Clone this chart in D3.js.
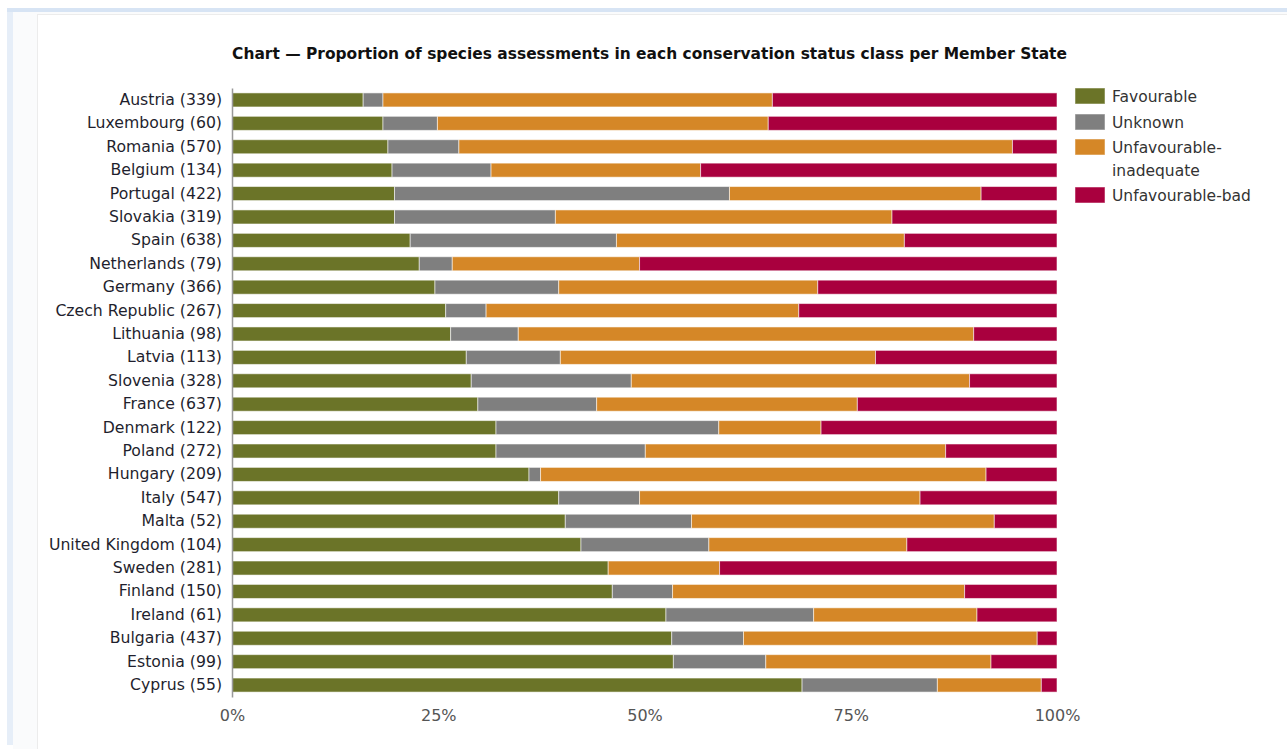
<!DOCTYPE html>
<html>
<head>
<meta charset="utf-8">
<script src="https://cdn.jsdelivr.net/npm/d3@7"></script>
<style>
  body { margin: 0; background: #fff; }
  svg { display: block; }
</style>
</head>
<body>
<script>
var width = 1287,
    height = 749;

// countries, top to bottom, with number of assessments
var countries = ["Austria", "Luxembourg", "Romania", "Belgium", "Portugal", "Slovakia", "Spain",
  "Netherlands", "Germany", "Czech Republic", "Lithuania", "Latvia", "Slovenia", "France",
  "Denmark", "Poland", "Hungary", "Italy", "Malta", "United Kingdom", "Sweden", "Finland",
  "Ireland", "Bulgaria", "Estonia", "Cyprus"];
var counts = [339, 60, 570, 134, 422, 319, 638, 79, 366, 267, 98, 113, 328, 637,
  122, 272, 209, 547, 52, 104, 281, 150, 61, 437, 99, 55];

// percentages per status class
var favourable = [15.9, 18.3, 18.9, 19.4, 19.7, 19.7, 21.6, 22.7, 24.6, 25.9, 26.5, 28.4, 29.0,
  29.8, 32.0, 32.0, 36.0, 39.6, 40.4, 42.3, 45.6, 46.1, 52.6, 53.3, 53.5, 69.1];
var unknown = [2.4, 6.6, 8.6, 12.0, 40.6, 19.5, 25.0, 4.0, 15.0, 4.9, 8.2, 11.4, 19.4,
  14.4, 27.0, 18.1, 1.4, 9.8, 15.3, 15.5, 0, 7.3, 17.9, 8.7, 11.2, 16.4];
var inadequate = [47.2, 40.1, 67.1, 25.4, 30.5, 40.8, 34.9, 22.7, 31.4, 37.9, 55.2, 38.2, 41.0,
  31.6, 12.4, 36.4, 54.0, 34.0, 36.7, 24.0, 13.5, 35.4, 19.8, 35.6, 27.3, 12.6];
var bad = [34.5, 35.0, 5.4, 43.2, 9.2, 20.0, 18.5, 50.6, 29.0, 31.3, 10.1, 22.0, 10.6,
  24.2, 28.6, 13.5, 8.6, 16.6, 7.6, 18.2, 40.9, 11.2, 9.7, 2.4, 8.0, 1.9];

var seriesNames = ["Favourable", "Unknown", "Unfavourable-inadequate", "Unfavourable-bad"];
var seriesColors = ["#6b7428", "#7f7f7f", "#d58727", "#a9003e"];
var xTicks = [0, 25, 50, 75, 100];

var title = "Chart \u2014 Proportion of species assessments in each conservation status class per Member State";

var rows = countries.map(function(c, i){
  return {
    label: c + " (" + counts[i] + ")",
    "Favourable": favourable[i],
    "Unknown": unknown[i],
    "Unfavourable-inadequate": inadequate[i],
    "Unfavourable-bad": bad[i]
  };
});

var svg = d3.select("body").append("svg")
  .attr("width", width)
  .attr("height", height);

// page frame around the chart
svg.append("rect").attr("x", 7).attr("y", 8).attr("width", width - 7).attr("height", 4).attr("fill", "#d7e4f4");
svg.append("rect").attr("x", 7).attr("y", 12).attr("width", 6).attr("height", 733).attr("fill", "#e6eef8");
svg.append("rect").attr("x", 13).attr("y", 12).attr("width", width - 13).attr("height", height - 12).attr("fill", "#fafbfc");
svg.append("rect").attr("x", 37.5).attr("y", 14.5).attr("width", width - 37).attr("height", height - 14)
  .attr("fill", "#fff").attr("stroke", "#ececec");

var x = d3.scaleLinear().domain([0, 100]).range([232, 1057]);
var y = d3.scaleBand().domain(rows.map(function(d){ return d.label; }))
  .range([88, 697]).paddingInner(0.4).paddingOuter(0.21);
var color = d3.scaleOrdinal().domain(seriesNames).range(seriesColors);

var stacked = d3.stack().keys(seriesNames)(rows);

// title, sized so it spans the same width as in the picture
var titleText = svg.append("text")
  .attr("x", 649.5).attr("y", 59)
  .attr("text-anchor", "middle")
  .style("font-family", "'DejaVu Sans', Verdana, sans-serif")
  .style("font-weight", "bold")
  .style("font-size", "15px")
  .attr("fill", "#111")
  .text(title);
var tw = titleText.node().getComputedTextLength();
if (tw > 0) titleText.style("font-size", (15 * 835 / tw).toFixed(2) + "px");

svg.append("g").selectAll("g")
  .data(stacked)
  .join("g")
    .attr("fill", function(d){ return color(d.key); })
  .selectAll("rect")
  .data(function(d){ return d; })
  .join("rect")
    .attr("x", function(d){ return x(d[0]); })
    .attr("y", function(d){ return y(d.data.label); })
    .attr("width", function(d){ return Math.max(0, x(d[1]) - x(d[0])); })
    .attr("height", y.bandwidth())
    .attr("stroke", "#fff")
    .attr("stroke-opacity", 0.55)
    .attr("stroke-width", 1);

// y axis: labels and the left line
var yAxis = svg.append("g")
  .attr("transform", "translate(232,0)")
  .call(d3.axisLeft(y).tickSize(0).tickPadding(10));
yAxis.select(".domain").attr("stroke", "#999").attr("stroke-width", 1.5);
yAxis.selectAll("text")
  .style("font-family", "'DejaVu Sans', Verdana, sans-serif")
  .style("font-size", "15.7px")
  .attr("fill", "#1f1f2e");

var xAxis = svg.append("g")
  .attr("transform", "translate(0,697)")
  .call(d3.axisBottom(x).tickValues(xTicks).tickSize(0).tickPadding(13)
    .tickFormat(function(d){ return d + "%"; }));
xAxis.select(".domain").remove();
xAxis.selectAll("text")
  .style("font-family", "'DejaVu Sans', Verdana, sans-serif")
  .style("font-size", "16px")
  .attr("fill", "#555");

// legend
var legendTops = [88, 114, 139, 187];
var legend = svg.append("g").selectAll("g")
  .data(seriesNames)
  .join("g")
    .attr("transform", function(d, i){ return "translate(1075," + legendTops[i] + ")"; });
legend.append("rect")
  .attr("width", 30).attr("height", 16)
  .attr("fill", function(d){ return color(d); })
  .attr("stroke", "#fff").attr("stroke-opacity", 0.5);
legend.append("text")
  .attr("x", 37).attr("y", 14)
  .style("font-family", "'DejaVu Sans', Verdana, sans-serif")
  .style("font-size", "15.5px")
  .attr("fill", "#333")
  .selectAll("tspan")
  .data(function(d){ return d == "Unfavourable-inadequate" ? ["Unfavourable-", "inadequate"] : [d]; })
  .join("tspan")
    .attr("x", 37)
    .attr("dy", function(d, i){ return i ? 23 : 0; })
    .text(function(d){ return d; });
</script>
</body>
</html>
